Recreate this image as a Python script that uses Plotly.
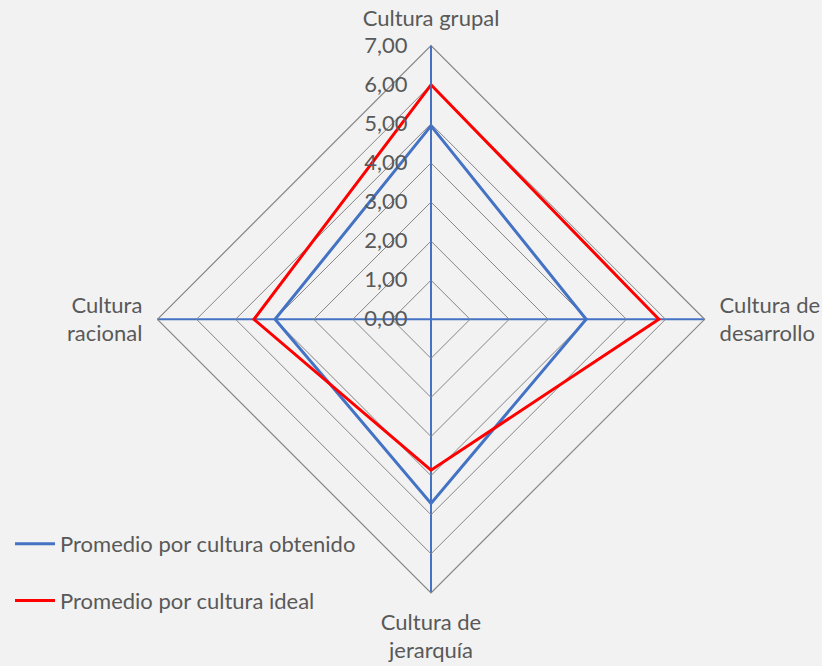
import plotly.graph_objects as go

categories = ["Cultura grupal", "Cultura de<br>desarrollo", "Cultura de<br>jerarquía", "Cultura<br>racional"]
obtenido = [4.95, 3.97, 4.71, 3.99]
ideal = [6.00, 5.83, 3.86, 4.53]
series_names = ["Promedio por cultura obtenido", "Promedio por cultura ideal"]
radial_ticks = [0, 1, 2, 3, 4, 5, 6, 7]

font_family = "Lato, 'Open Sans', sans-serif"
text_color = "#595959"
bg = "#F2F2F2"

fig = go.Figure()
for name, vals, col, grp in [(series_names[0], obtenido, "#4472C4", "a"),
                             (series_names[1], ideal, "#FF0000", "b")]:
    fig.add_trace(go.Scatterpolar(
        r=vals + [vals[0]],
        theta=categories + [categories[0]],
        mode="lines",
        name=name,
        legendgroup=grp,
        line=dict(color=col, width=3),
    ))

fig.update_layout(
    width=822, height=666,
    paper_bgcolor=bg, plot_bgcolor=bg,
    margin=dict(l=0, r=0, t=0, b=0),
    separators=",.",
    font=dict(family=font_family, size=22, color=text_color),
    polar=dict(
        bgcolor=bg,
        domain=dict(x=[157.4/822, 704.6/822], y=[73.1/666, 620.3/666]),
        gridshape="linear",
        angularaxis=dict(
            rotation=90, direction="clockwise",
            showline=True, linecolor="#858585", linewidth=1.2,
            gridcolor="#4472C4", gridwidth=1.5,
            ticks="outside", ticklen=10, tickcolor="rgba(0,0,0,0)",
            tickfont=dict(size=22, color=text_color),
        ),
        radialaxis=dict(
            range=[0, 7], tickvals=radial_ticks, tickformat=".2f",
            angle=90, side="counterclockwise", tickangle=90,
            showline=True, linecolor="#4472C4", linewidth=1.5,
            gridcolor="#858585", gridwidth=1.2,
            ticks="outside", ticklen=15, tickcolor="rgba(0,0,0,0)",
            tickfont=dict(size=22, color=text_color),
        ),
    ),
    legend=dict(
        x=10/822, xanchor="left", y=44/666, yanchor="bottom",
        bgcolor="rgba(0,0,0,0)",
        font=dict(size=22, color=text_color),
        tracegroupgap=25,
        itemwidth=40,
    ),
    showlegend=True,
)

fig.write_html("out.html", config={"displayModeBar": False},
               post_script="document.body.style.margin='0';document.body.style.background='#F2F2F2';")
